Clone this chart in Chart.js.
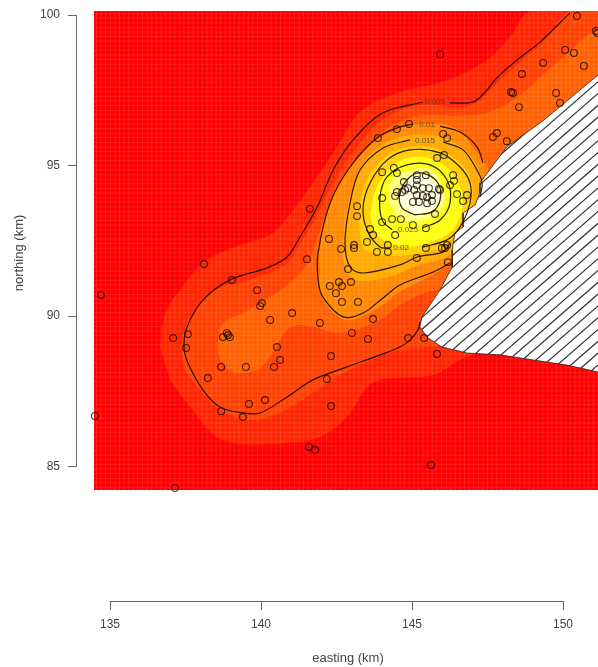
<!DOCTYPE html>
<html>
<head>
<meta charset="utf-8">
<style>
html,body{margin:0;padding:0;background:#fff}
canvas{display:block;filter:blur(0.45px)}
</style>
<script src="https://cdn.jsdelivr.net/npm/chart.js@4"></script>
</head>
<body>
<canvas id="c" width="598" height="667"></canvas>
<script>
const xTickValues=[135,140,145,150];
const yTickValues=[85,90,95,100];
const xAxisTitle="easting (km)";
const yAxisTitle="northing (km)";

const observations=[[138.11,91.73],[134.70,90.70],[139.04,91.20],[139.87,90.86],[140.03,90.43],[139.97,90.33],[141.03,90.10],[140.30,89.87],[141.52,91.89],[141.95,89.77],[137.09,89.27],[137.58,89.40],[137.52,88.94],[138.87,89.44],[138.74,89.30],[138.97,89.30],[138.91,89.37],[140.53,88.97],[140.63,88.54],[140.43,88.31],[139.50,88.31],[138.68,88.31],[138.24,87.94],[142.32,88.67],[143.01,89.44],[143.54,89.24],[143.71,89.90],[142.18,87.91],[142.32,87.01],[139.60,87.08],[140.13,87.21],[138.68,86.84],[139.40,86.65],[134.50,86.68],[141.59,85.65],[141.79,85.55],[137.15,84.29],[142.28,91.00],[142.58,91.13],[142.68,91.00],[142.48,90.76],[142.98,91.13],[142.68,90.47],[143.21,90.47],[142.88,91.56],[144.90,96.38],[144.50,96.21],[143.87,95.91],[146.03,96.05],[146.16,95.91],[146.06,95.35],[145.83,95.25],[144.01,94.78],[144.40,94.92],[144.50,94.75],[141.62,93.56],[143.18,93.65],[143.18,93.32],[144.01,93.92],[146.36,94.68],[146.39,94.49],[146.26,94.35],[146.49,94.05],[146.82,94.02],[146.69,93.82],[145.76,93.39],[144.34,93.22],[144.63,93.22],[144.01,93.12],[145.03,93.02],[145.46,92.92],[144.44,92.69],[143.61,92.89],[143.71,92.69],[143.51,92.46],[142.25,92.56],[143.08,92.36],[143.08,92.26],[142.65,92.23],[143.84,92.13],[144.20,92.36],[144.20,92.13],[145.46,92.26],[145.99,92.26],[146.09,92.26],[146.16,92.36],[145.16,91.93],[146.19,91.79],[148.28,97.44],[148.34,97.41],[148.54,96.94],[147.68,95.95],[147.81,96.08],[148.14,95.81],[145.93,98.70],[150.46,99.97],[151.09,99.47],[151.14,99.40],[150.07,98.84],[150.36,98.74],[149.34,98.41],[150.69,98.31],[148.64,98.04],[149.77,97.41],[149.90,97.08],[145.16,94.68],[145.46,94.68],[145.16,94.52],[145.16,94.35],[144.73,94.45],[144.77,94.19],[144.50,94.12],[144.44,93.99],[145.07,94.19],[145.36,94.25],[145.56,94.25],[145.66,94.02],[145.89,94.22],[145.93,94.19],[145.16,94.02],[145.36,93.99],[145.50,93.95],[145.03,93.79],[145.23,93.79],[145.50,93.75],[145.66,93.82],[144.87,94.25],[144.67,94.12],[144.87,89.27],[145.40,89.27],[145.83,88.74],[145.63,85.05]];

const heatBase=[[134.47,100.13],[151.16,100.13],[151.16,84.22],[134.47,84.22]];
const bandA=[[136.66,88.97],[136.82,90.04],[137.32,90.87],[138.21,91.86],[139.31,92.36],[140.40,92.76],[141.06,93.52],[141.86,94.62],[142.52,95.62],[143.28,96.78],[144.60,97.44],[146.03,97.78],[147.35,98.41],[148.25,99.27],[148.91,100.13],[151.16,100.13],[151.16,90.53],[146.59,88.54],[145.70,88.04],[143.71,87.78],[142.85,86.65],[141.95,85.98],[140.86,85.78],[138.74,85.88],[137.65,86.98],[136.99,87.88]];
const bandB=[[137.32,88.97],[137.65,89.94],[138.48,90.87],[139.64,91.20],[140.80,91.70],[141.29,92.36],[142.02,93.69],[142.55,94.69],[143.21,95.68],[144.11,96.58],[145.26,97.01],[146.92,96.98],[147.91,97.84],[148.58,98.44],[149.34,99.10],[150.23,100.13],[151.16,100.13],[151.16,90.53],[146.09,89.04],[144.60,88.87],[143.78,88.61],[142.62,88.04],[141.62,87.38],[140.80,86.88],[139.80,86.55],[138.81,86.78],[137.98,87.54],[137.49,88.21]];
const bandC=[[138.54,88.97],[138.74,89.77],[139.41,90.10],[140.30,90.63],[141.06,91.20],[141.56,91.80],[142.02,93.03],[142.45,94.02],[143.01,95.02],[144.11,96.18],[145.26,96.65],[146.59,96.65],[147.58,96.78],[148.58,97.34],[149.90,98.51],[151.16,99.34],[151.16,90.53],[145.93,90.87],[144.60,90.37],[143.94,89.87],[142.62,89.44],[141.72,89.64],[141.29,89.70],[140.86,89.54],[140.30,88.64],[139.87,88.21],[139.07,88.14],[138.64,88.54]];
const bandD=[[141.95,91.53],[141.92,92.36],[142.35,93.86],[143.01,95.02],[143.94,95.92],[145.26,96.38],[146.42,96.25],[147.09,95.52],[147.58,94.69],[147.58,92.86],[146.92,92.36],[145.93,91.53],[144.60,90.80],[143.61,90.10],[142.78,89.87],[142.12,90.43],[141.89,91.03]];
const bandE=[[142.68,92.19],[142.88,93.69],[143.35,95.02],[144.11,95.75],[145.10,96.02],[146.09,95.92],[146.92,95.35],[147.32,94.52],[147.25,93.86],[146.92,92.86],[146.26,92.03],[145.26,91.70],[144.11,91.26],[143.11,91.20],[142.78,91.60]];
const bandF=[[143.28,92.53],[143.28,93.69],[143.54,94.59],[144.21,95.35],[145.00,95.62],[145.93,95.52],[146.66,95.02],[146.99,94.35],[146.92,93.52],[146.52,92.79],[145.93,92.26],[144.93,92.03],[143.94,92.03],[143.44,92.19]];
const bandG=[[143.61,93.42],[143.84,94.29],[144.50,95.09],[145.17,95.28],[145.93,95.09],[146.49,94.52],[146.69,93.76],[146.42,92.96],[145.83,92.53],[144.83,92.29],[144.04,92.53],[143.68,92.96]];
const bandH=[[144.21,93.86],[144.34,94.52],[144.83,94.79],[145.50,94.92],[145.93,94.52],[146.09,93.86],[145.76,93.36],[145.10,93.13],[144.54,93.26]];
const bandI=[[144.60,93.69],[144.60,94.19],[145.00,94.65],[145.43,94.69],[145.83,94.29],[145.86,93.75],[145.53,93.46],[145.00,93.39]];
const bandColors=["#ff0000","#ff2400","#ff4000","#ff6000","#ff8800","#ffaa00","#ffd000","#ffff10","#ffff80","#ffffe0"];

const coastline=[[151.16,98.01],[150.56,97.51],[149.90,96.95],[149.24,96.41],[148.68,96.02],[148.14,95.62],[147.81,95.18],[147.25,94.42],[147.25,94.09],[147.09,93.69],[146.69,93.42],[146.69,92.96],[146.42,92.76],[146.33,92.19],[146.33,91.63],[145.93,90.87],[145.33,89.97],[145.26,89.64],[145.53,89.27],[145.99,88.97],[146.82,88.77],[147.91,88.71],[149.01,88.54],[150.13,88.37],[151.16,88.14]];

const contour005=[[145.26,89.80],[145.20,89.54],[144.93,89.20],[144.60,88.97],[143.94,88.71],[142.85,88.31],[141.72,87.88],[140.86,87.31],[139.97,86.78],[139.41,86.78],[138.64,86.98],[138.08,87.54],[137.58,88.44],[137.45,88.97],[137.55,89.64],[138.08,90.53],[138.98,91.20],[140.20,91.60],[140.86,91.96],[141.29,92.63],[141.86,93.62],[142.39,94.85],[143.05,95.85],[144.04,96.75],[145.36,97.11],[null,null],[146.26,97.08],[147.02,97.11],[147.42,97.44],[147.81,97.91],[148.48,98.51],[149.24,99.10],[150.23,100.07]];
const contour010=[[146.26,91.76],[145.70,91.46],[144.60,91.03],[144.04,90.60],[143.38,90.10],[142.72,89.97],[142.05,90.63],[141.89,91.20],[141.89,92.10],[142.29,93.76],[142.95,94.95],[143.84,95.92],[144.50,96.25],[145.03,96.38],[null,null],[145.93,96.31],[146.59,96.11],[147.15,95.62],[147.35,95.09]];
const contour015=[[146.26,92.43],[146.03,92.13],[145.17,91.96],[144.60,91.70],[143.38,91.43],[142.95,91.63],[142.78,92.43],[142.95,93.76],[143.28,94.85],[144.04,95.58],[144.93,95.85],[null,null],[146.03,95.78],[146.69,95.52],[147.15,94.85],[147.32,94.42],[147.25,93.96]];
const contour020=[[145.36,92.29],[146.16,92.53],[146.59,92.96],[146.92,93.76],[146.92,94.42],[146.59,94.95],[145.93,95.42],[144.93,95.52],[144.17,95.18],[143.61,94.42],[143.38,93.62],[143.51,92.86],[143.94,92.29],[144.27,92.26]];
const contour025=[[145.36,92.93],[145.93,93.19],[146.26,93.76],[146.16,94.52],[145.60,95.02],[144.83,95.02],[144.17,94.62],[143.94,93.96],[144.01,93.19],[144.34,92.86]];
const contour030=[[145.10,93.36],[145.66,93.46],[145.93,93.86],[145.86,94.42],[145.36,94.75],[144.93,94.62],[144.60,94.09],[144.67,93.59],[145.10,93.36]];
const contourLabelText=["0.005","0.01","0.015","0.02","0.025"];
const contourLabelX=[145.76,145.50,145.43,144.64,144.87];
const contourLabelY=[97.11,96.35,95.82,92.26,92.86];

const pts=a=>a.map(([x,y])=>({x,y}));
const datasets=[];
function band(a,col,t){
  datasets.push({data:pts(a),showLine:true,fill:'shape',backgroundColor:col,borderColor:col,borderWidth:0,pointRadius:0,tension:t});
}
band(heatBase,bandColors[0],0);
[bandA,bandB,bandC,bandD,bandE,bandF,bandG,bandH,bandI].forEach((b,i)=>band(b,bandColors[i+1],0.35));
const lastHeatIndex=datasets.length-1;
band(coastline,"#ffffff",0);
const coastIndex=datasets.length-1;
datasets[coastIndex].borderColor="#3a1a10";
datasets[coastIndex].borderWidth=0.8;
[contour005,contour010,contour015,contour020,contour025,contour030].forEach(c=>{
  datasets.push({data:pts(c),showLine:true,fill:false,borderColor:"rgba(25,5,0,0.9)",borderWidth:1.2,pointRadius:0,tension:0.35});
});
datasets.push({data:pts(observations),showLine:false,pointStyle:'circle',pointRadius:3.4,pointBorderWidth:1.1,pointBackgroundColor:'rgba(0,0,0,0)',pointBorderColor:'rgba(20,5,0,0.8)'});
datasets.forEach((d,i)=>{d.order=-i;});

const AXIS="#666666",TEXT="#444444",FONT='"Liberation Sans",Arial,sans-serif';

const mapPlugin={
  id:'mapPlugin',
  afterDatasetDraw(chart,args){
    const ctx=chart.ctx,sx=chart.scales.x,sy=chart.scales.y;
    if(args.index===lastHeatIndex){
      const x0=sx.getPixelForValue(heatBase[0][0]),x1=sx.getPixelForValue(heatBase[1][0]);
      const y0=sy.getPixelForValue(heatBase[0][1]),y1=sy.getPixelForValue(heatBase[2][1]);
      ctx.save();ctx.strokeStyle='rgba(255,255,255,0.1)';ctx.lineWidth=1;ctx.beginPath();
      for(let x=x0+2.5;x<x1;x+=4.6){ctx.moveTo(x,y0);ctx.lineTo(x,y1);}
      for(let y=y0+2.5;y<y1;y+=4.6){ctx.moveTo(x0,y);ctx.lineTo(x1,y);}
      ctx.stroke();ctx.restore();
    }
    if(args.index===coastIndex){
      ctx.save();ctx.beginPath();
      coastline.forEach(([x,y],i)=>{const px=sx.getPixelForValue(x),py=sy.getPixelForValue(y);i?ctx.lineTo(px,py):ctx.moveTo(px,py);});
      ctx.closePath();ctx.clip();
      ctx.strokeStyle='#333333';ctx.lineWidth=1.2;ctx.beginPath();
      for(let c=0;c<1300;c+=11.8){ctx.moveTo(380,c);ctx.lineTo(620,c-240*0.87);}
      ctx.stroke();ctx.restore();
    }
  },
  afterDraw(chart){
    const ctx=chart.ctx,sx=chart.scales.x,sy=chart.scales.y;
    ctx.save();
    ctx.strokeStyle=AXIS;ctx.lineWidth=1;ctx.beginPath();
    const ax=Math.round(sx.left)-0.5,ay=Math.round(sy.bottom)+0.5;
    ctx.moveTo(ax,sy.getPixelForValue(yTickValues[0]));ctx.lineTo(ax,sy.getPixelForValue(yTickValues[3]));
    ctx.moveTo(sx.getPixelForValue(xTickValues[0]),ay);ctx.lineTo(sx.getPixelForValue(xTickValues[3]),ay);
    ctx.stroke();
    ctx.fillStyle='rgba(90,60,40,0.85)';ctx.font='8px '+FONT;ctx.textAlign='center';ctx.textBaseline='middle';
    contourLabelText.forEach((t,i)=>ctx.fillText(t,sx.getPixelForValue(contourLabelX[i]),sy.getPixelForValue(contourLabelY[i])));
    ctx.fillStyle=TEXT;ctx.font='13px '+FONT;
    ctx.fillText(chart.options.scales.x.title.text,348,658);
    ctx.translate(19,253);ctx.rotate(-Math.PI/2);
    ctx.fillText(chart.options.scales.y.title.text,0,0);
    ctx.restore();
  }
};
const noPad=s=>{s.paddingLeft=0;s.paddingRight=0;s.paddingTop=0;s.paddingBottom=0;};

new Chart(document.getElementById('c'),{
  type:'scatter',
  data:{datasets},
  plugins:[mapPlugin],
  options:{
    responsive:false,animation:false,
    layout:{autoPadding:false,padding:{top:11,left:0,right:0,bottom:0}},
    plugins:{legend:{display:false},tooltip:{enabled:false}},
    events:[],
    scales:{
      x:{type:'linear',min:133.907,max:151.158,
        title:{display:false,text:xAxisTitle},
        border:{display:false},
        grid:{drawOnChartArea:false,drawTicks:true,tickLength:9,tickColor:AXIS,tickWidth:1},
        ticks:{color:TEXT,font:{family:FONT,size:12},padding:7,maxRotation:0,autoSkip:false,includeBounds:false},
        afterBuildTicks(s){s.ticks=xTickValues.map(v=>({value:v}));},
        afterFit(s){s.height=66;noPad(s);}
      },
      y:{type:'linear',min:80.533,max:100.133,
        title:{display:false,text:yAxisTitle},
        border:{display:false},
        grid:{drawOnChartArea:false,drawTicks:true,tickLength:9,tickColor:AXIS,tickWidth:1},
        ticks:{color:TEXT,font:{family:FONT,size:12},padding:8,autoSkip:false,includeBounds:false},
        afterBuildTicks(s){s.ticks=yTickValues.map(v=>({value:v}));},
        afterFit(s){s.width=77;noPad(s);}
      }
    }
  }
});
</script>
</body>
</html>
